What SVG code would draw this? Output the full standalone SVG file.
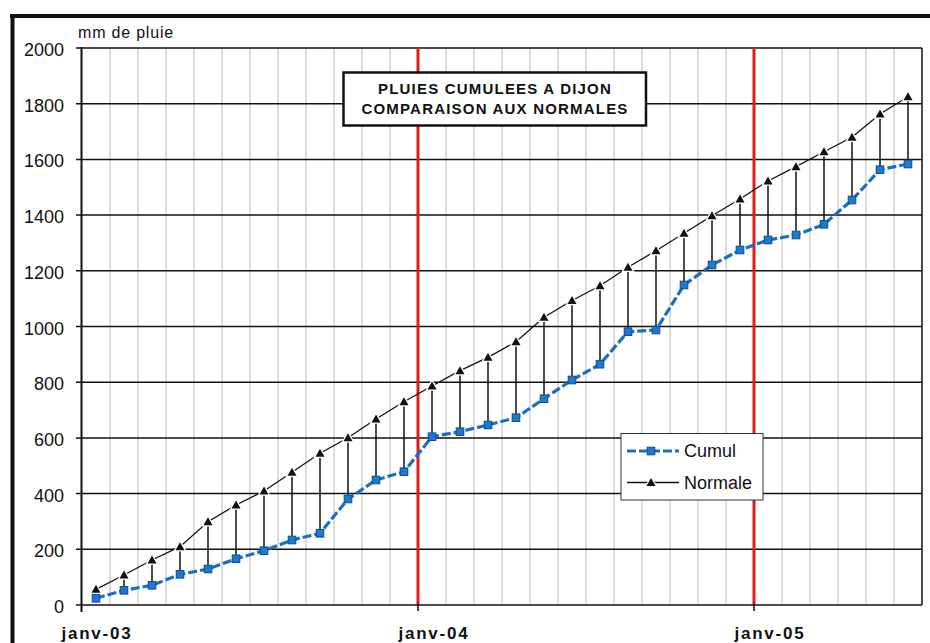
<svg xmlns="http://www.w3.org/2000/svg" xmlns:xlink="http://www.w3.org/1999/xlink" width="930" height="643" viewBox="0 0 930 643">
<style>
.ylab{font-family:"Liberation Sans",Arial,sans-serif;font-size:18px;fill:#111;text-anchor:end}
.xlab{font-family:"Liberation Sans",Arial,sans-serif;font-size:17px;font-weight:bold;fill:#111;text-anchor:middle;letter-spacing:1.8px}
.title{font-family:"Liberation Sans",Arial,sans-serif;font-size:15px;font-weight:bold;fill:#111;text-anchor:middle;letter-spacing:1.2px}
.leg{font-family:"Liberation Sans",Arial,sans-serif;font-size:18px;fill:#111}
.hgrid{stroke:#111;stroke-width:1.5}
.vgrid{stroke:#b8b8b8;stroke-width:1}
.red{stroke:#e01b1b;stroke-width:3}
.drop{stroke:#111;stroke-width:1.5}
.normal{fill:none;stroke:#111;stroke-width:1.3}
.cumul{fill:none;stroke:#1a6fc4;stroke-width:3.2;stroke-dasharray:9 3}
</style>
<defs>
<path id="tri" d="M0,-4.5 L4.5,3.5 L-4.5,3.5 Z" fill="#111" stroke="#fff" stroke-width="2.5" paint-order="stroke"/>
<rect id="sq" x="-3.8" y="-3.8" width="7.6" height="7.6" fill="#1f78c8" stroke="#0b4f94" stroke-width="1"/>
</defs>
<rect width="930" height="643" fill="#fff"/>
<g id="frame">
<line x1="10" y1="16" x2="930" y2="16" stroke="#111" stroke-width="4"/>
<line x1="12.5" y1="14" x2="12.5" y2="643" stroke="#111" stroke-width="4"/>
</g>
<g id="grid">
<g class="vgrid">
<line x1="110" y1="48" x2="110" y2="605"/><line x1="138" y1="48" x2="138" y2="605"/><line x1="166" y1="48" x2="166" y2="605"/><line x1="194" y1="48" x2="194" y2="605"/><line x1="222" y1="48" x2="222" y2="605"/><line x1="250" y1="48" x2="250" y2="605"/><line x1="278" y1="48" x2="278" y2="605"/><line x1="306" y1="48" x2="306" y2="605"/><line x1="334" y1="48" x2="334" y2="605"/><line x1="362" y1="48" x2="362" y2="605"/><line x1="390" y1="48" x2="390" y2="605"/>
<line x1="446" y1="48" x2="446" y2="605"/><line x1="474" y1="48" x2="474" y2="605"/><line x1="502" y1="48" x2="502" y2="605"/><line x1="530" y1="48" x2="530" y2="605"/><line x1="558" y1="48" x2="558" y2="605"/><line x1="586" y1="48" x2="586" y2="605"/><line x1="614" y1="48" x2="614" y2="605"/><line x1="642" y1="48" x2="642" y2="605"/><line x1="670" y1="48" x2="670" y2="605"/><line x1="698" y1="48" x2="698" y2="605"/><line x1="726" y1="48" x2="726" y2="605"/>
<line x1="782" y1="48" x2="782" y2="605"/><line x1="810" y1="48" x2="810" y2="605"/><line x1="838" y1="48" x2="838" y2="605"/><line x1="866" y1="48" x2="866" y2="605"/><line x1="894" y1="48" x2="894" y2="605"/>
</g>
<g class="hgrid">
<line x1="76" y1="48" x2="922" y2="48"/><line x1="76" y1="103.7" x2="922" y2="103.7"/><line x1="76" y1="159.4" x2="922" y2="159.4"/><line x1="76" y1="215.1" x2="922" y2="215.1"/><line x1="76" y1="270.8" x2="922" y2="270.8"/><line x1="76" y1="326.5" x2="922" y2="326.5"/><line x1="76" y1="382.2" x2="922" y2="382.2"/><line x1="76" y1="437.9" x2="922" y2="437.9"/><line x1="76" y1="493.6" x2="922" y2="493.6"/><line x1="76" y1="549.3" x2="922" y2="549.3"/><line x1="76" y1="605" x2="922" y2="605"/>
<line x1="922" y1="48" x2="922" y2="605"/>
</g>
<line x1="81.5" y1="47" x2="81.5" y2="612" stroke="#111" stroke-width="2"/>
<line class="red" x1="418" y1="48" x2="418" y2="604"/>
<line class="red" x1="754" y1="48" x2="754" y2="604"/>
<line x1="418" y1="604" x2="418" y2="611" stroke="#111" stroke-width="1.5"/>
<line x1="754" y1="604" x2="754" y2="611" stroke="#111" stroke-width="1.5"/>
</g>
<g id="axis-labels">
<text class="ylab" x="64" y="56">2000</text>
<text class="ylab" x="64" y="111.7">1800</text>
<text class="ylab" x="64" y="167.4">1600</text>
<text class="ylab" x="64" y="223.1">1400</text>
<text class="ylab" x="64" y="278.8">1200</text>
<text class="ylab" x="64" y="334.5">1000</text>
<text class="ylab" x="64" y="390.2">800</text>
<text class="ylab" x="64" y="445.9">600</text>
<text class="ylab" x="64" y="501.6">400</text>
<text class="ylab" x="64" y="557.3">200</text>
<text class="ylab" x="64" y="613">0</text>
<text x="78" y="38" style="font-family:'Liberation Sans',Arial,sans-serif;font-size:16px;fill:#111;letter-spacing:0.8px">mm de pluie</text>
<text class="xlab" x="97" y="639">janv-03</text>
<text class="xlab" x="434" y="639">janv-04</text>
<text class="xlab" x="770" y="639">janv-05</text>
</g>
<g id="connectors">
<g class="drop">
<line x1="96" y1="593" x2="96" y2="595"/><line x1="124" y1="579" x2="124" y2="587"/><line x1="152" y1="564" x2="152" y2="582"/><line x1="180" y1="551" x2="180" y2="571"/><line x1="208" y1="526" x2="208" y2="565"/><line x1="236" y1="509" x2="236" y2="555"/><line x1="264" y1="495" x2="264" y2="547"/><line x1="292" y1="476" x2="292" y2="536"/><line x1="320" y1="457" x2="320" y2="530"/><line x1="348" y1="442" x2="348" y2="495"/><line x1="376" y1="423" x2="376" y2="476"/><line x1="404" y1="406" x2="404" y2="468"/><line x1="432" y1="390" x2="432" y2="433"/><line x1="460" y1="375" x2="460" y2="428"/><line x1="488" y1="361" x2="488" y2="421"/><line x1="516" y1="346" x2="516" y2="414"/><line x1="544" y1="321" x2="544" y2="395"/><line x1="572" y1="305" x2="572" y2="376"/><line x1="600" y1="290" x2="600" y2="360"/><line x1="628" y1="271" x2="628" y2="328"/><line x1="656" y1="255" x2="656" y2="326"/><line x1="684" y1="237" x2="684" y2="281"/><line x1="712" y1="220" x2="712" y2="261"/><line x1="740" y1="203" x2="740" y2="246"/><line x1="768" y1="185" x2="768" y2="236"/><line x1="796" y1="171" x2="796" y2="231"/><line x1="824" y1="156" x2="824" y2="220"/><line x1="852" y1="141" x2="852" y2="196"/><line x1="880" y1="118" x2="880" y2="166"/><line x1="908" y1="101" x2="908" y2="160"/>
</g>
<polyline class="normal" points="96,589.3 124,575 152,560 180,546.7 208,521.7 236,505 264,491 292,472.3 320,453.3 348,437.7 376,419 404,401.7 432,386 460,370.7 488,357.3 516,341.7 544,317.3 572,300.5 600,285.7 628,267.3 656,250.7 684,233.3 712,215.7 740,199 768,181 796,166.7 824,151.7 852,137.3 880,114 908,96.7"/>
<polyline class="cumul" points="96,598.3 124,590.3 152,585.3 180,574.3 208,569 236,558.7 264,550.7 292,540 320,533.3 348,499 376,480 404,471.7 432,436.7 460,431.7 488,425 516,417.7 544,398.7 572,380 600,364.2 628,331.7 656,330 684,285 712,265 740,250 768,240 796,235 824,224.3 852,200 880,169.7 908,164"/>
</g>
<g id="normal-markers">
<use xlink:href="#tri" x="96" y="589.3"/><use xlink:href="#tri" x="124" y="575"/><use xlink:href="#tri" x="152" y="560"/><use xlink:href="#tri" x="180" y="546.7"/><use xlink:href="#tri" x="208" y="521.7"/><use xlink:href="#tri" x="236" y="505"/><use xlink:href="#tri" x="264" y="491"/><use xlink:href="#tri" x="292" y="472.3"/><use xlink:href="#tri" x="320" y="453.3"/><use xlink:href="#tri" x="348" y="437.7"/><use xlink:href="#tri" x="376" y="419"/><use xlink:href="#tri" x="404" y="401.7"/><use xlink:href="#tri" x="432" y="386"/><use xlink:href="#tri" x="460" y="370.7"/><use xlink:href="#tri" x="488" y="357.3"/><use xlink:href="#tri" x="516" y="341.7"/><use xlink:href="#tri" x="544" y="317.3"/><use xlink:href="#tri" x="572" y="300.5"/><use xlink:href="#tri" x="600" y="285.7"/><use xlink:href="#tri" x="628" y="267.3"/><use xlink:href="#tri" x="656" y="250.7"/><use xlink:href="#tri" x="684" y="233.3"/><use xlink:href="#tri" x="712" y="215.7"/><use xlink:href="#tri" x="740" y="199"/><use xlink:href="#tri" x="768" y="181"/><use xlink:href="#tri" x="796" y="166.7"/><use xlink:href="#tri" x="824" y="151.7"/><use xlink:href="#tri" x="852" y="137.3"/><use xlink:href="#tri" x="880" y="114"/><use xlink:href="#tri" x="908" y="96.7"/>
</g>
<g id="cumul-markers">
<use xlink:href="#sq" x="96" y="598.3"/><use xlink:href="#sq" x="124" y="590.3"/><use xlink:href="#sq" x="152" y="585.3"/><use xlink:href="#sq" x="180" y="574.3"/><use xlink:href="#sq" x="208" y="569"/><use xlink:href="#sq" x="236" y="558.7"/><use xlink:href="#sq" x="264" y="550.7"/><use xlink:href="#sq" x="292" y="540"/><use xlink:href="#sq" x="320" y="533.3"/><use xlink:href="#sq" x="348" y="499"/><use xlink:href="#sq" x="376" y="480"/><use xlink:href="#sq" x="404" y="471.7"/><use xlink:href="#sq" x="432" y="436.7"/><use xlink:href="#sq" x="460" y="431.7"/><use xlink:href="#sq" x="488" y="425"/><use xlink:href="#sq" x="516" y="417.7"/><use xlink:href="#sq" x="544" y="398.7"/><use xlink:href="#sq" x="572" y="380"/><use xlink:href="#sq" x="600" y="364.2"/><use xlink:href="#sq" x="628" y="331.7"/><use xlink:href="#sq" x="656" y="330"/><use xlink:href="#sq" x="684" y="285"/><use xlink:href="#sq" x="712" y="265"/><use xlink:href="#sq" x="740" y="250"/><use xlink:href="#sq" x="768" y="240"/><use xlink:href="#sq" x="796" y="235"/><use xlink:href="#sq" x="824" y="224.3"/><use xlink:href="#sq" x="852" y="200"/><use xlink:href="#sq" x="880" y="169.7"/><use xlink:href="#sq" x="908" y="164"/>
</g>
<g id="title-box">
<rect x="343.5" y="72.5" width="302.5" height="53" fill="#fff" stroke="#111" stroke-width="2.5"/>
<text class="title" x="495" y="93.5">PLUIES CUMULEES A DIJON</text>
<text class="title" x="495" y="113.5">COMPARAISON AUX NORMALES</text>
</g>
<g id="legend">
<rect x="621" y="433.5" width="142" height="66.5" fill="#fff" stroke="#333" stroke-width="1"/>
<line class="cumul" x1="627" y1="451" x2="679" y2="451"/>
<use xlink:href="#sq" x="651" y="451"/>
<text class="leg" x="684" y="457">Cumul</text>
<line class="normal" x1="627" y1="482.5" x2="679" y2="482.5"/>
<use xlink:href="#tri" x="651" y="482.5"/>
<text class="leg" x="684" y="489">Normale</text>
</g>
</svg>
